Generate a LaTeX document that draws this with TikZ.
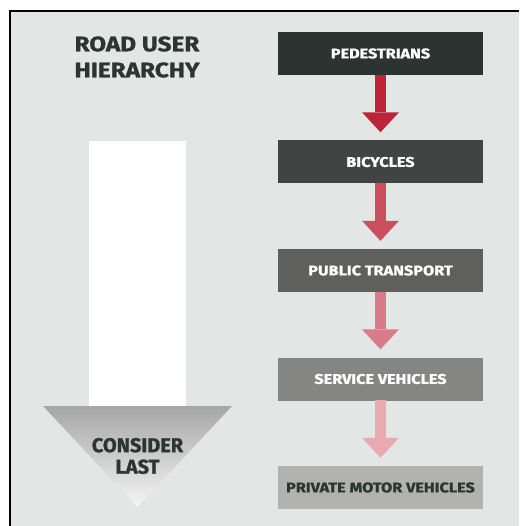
\documentclass[tikz,border=0pt]{standalone}
\usepackage{fontspec}
\setmainfont{Fira Sans}[BoldFeatures={FakeBold=1.2}]
\newfontfamily\widefont{Fira Sans}[FakeStretch=1.16,BoldFeatures={FakeBold=1.2}]
\usepackage{tikz}
\usetikzlibrary{arrows.meta,calc}

\definecolor{panelgray}{HTML}{E2E6E5}
\definecolor{textdark}{HTML}{2B3532}
\definecolor{boxA}{HTML}{2C3431}
\definecolor{boxB}{HTML}{404543}
\definecolor{boxC}{HTML}{5F5F5D}
\definecolor{boxD}{HTML}{858584}
\definecolor{boxE}{HTML}{B2B2B0}
\definecolor{redA}{HTML}{BE2439}
\definecolor{redB}{HTML}{CC4F5F}
\definecolor{redC}{HTML}{D97C89}
\definecolor{redD}{HTML}{E8A9B1}

\tikzset{
  userbox/.style={minimum width=205pt,minimum height=43pt,inner sep=0pt,
    font=\widefont\bfseries\fontsize{14}{16}\selectfont,text=white},
  downarrow/.style={line width=11pt,
    -{Triangle[width=37pt,length=20pt,line width=0pt 0]},shorten <=-0.5pt}
}

\begin{document}
\begin{tikzpicture}[x=1pt,y=-1pt]
\useasboundingbox (0,0) rectangle (519,526);
\fill[white] (0,0) rectangle (519,526);
\fill[panelgray] (10,11) rectangle (519,526);
\draw[line width=2.5pt] (10,526) -- (10,11) -- (519,11);

% title
\node[align=center,text=textdark,font=\widefont\bfseries\fontsize{21}{26}\selectfont] (title) at (137,57) {ROAD USER\\HIERARCHY};

% big arrow on the left
\fill[white] (89,141) rectangle (186,406);
\shade[top color=black!35,bottom color=white!96!black] (43,406) -- (232,406) -- (137.5,507) -- cycle;
\node[align=center,text=textdark,font=\bfseries\fontsize{20}{21.5}\selectfont] (last) at (137.5,456) {CONSIDER\\LAST};

% the hierarchy
\node[userbox,fill=boxA] (ped) at (380.5,53.5) {PEDESTRIANS};
\node[userbox,fill=boxB] (bike) at (380.5,162) {BICYCLES};
\node[userbox,fill=boxC] (bus) at (380.5,270.5) {PUBLIC TRANSPORT};
\node[userbox,fill=boxD] (service) at (380.5,379) {SERVICE VEHICLES};
\node[userbox,fill=boxE,text=textdark] (car) at (380.5,487.5) {PRIVATE MOTOR VEHICLES};

\draw[downarrow,redA] (ped.south) -- ($(bike.north)+(0,-8)$);
\draw[downarrow,redB] (bike.south) -- ($(bus.north)+(0,-8)$);
\draw[downarrow,redC] (bus.south) -- ($(service.north)+(0,-8)$);
\draw[downarrow,redD] (service.south) -- ($(car.north)+(0,-8)$);
\end{tikzpicture}
\end{document}
